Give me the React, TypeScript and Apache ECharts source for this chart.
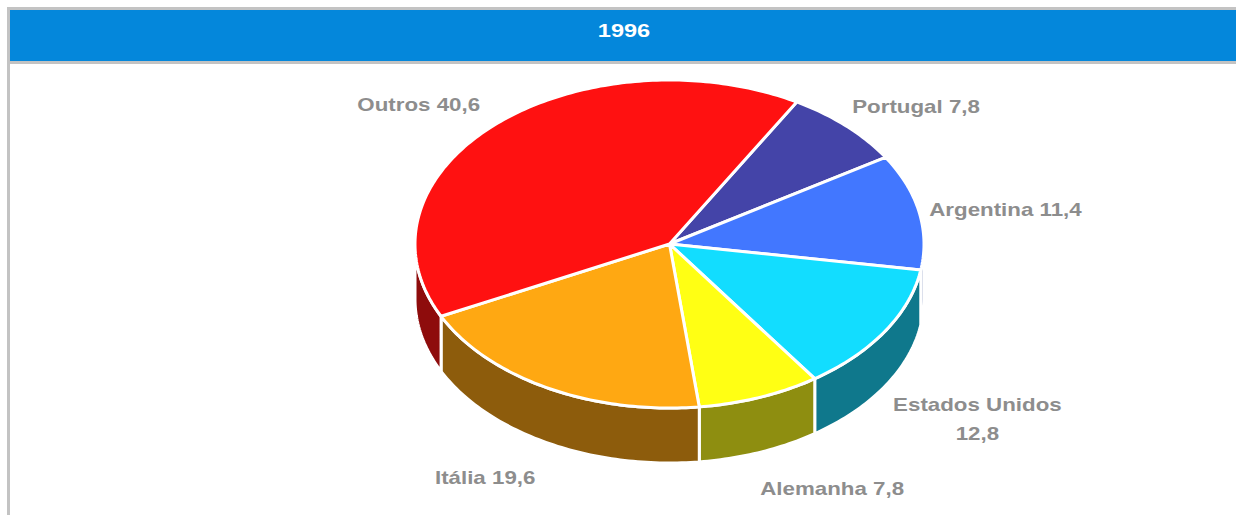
import React, { useEffect, useRef } from "react";
import * as echarts from "echarts";

const chartTitle = "1996";
const categories = ["Portugal", "Argentina", "Estados Unidos", "Alemanha", "Itália", "Outros"];
const values = [7.8, 11.4, 12.8, 7.8, 19.6, 40.6];
const topColors = ["#4444A8", "#4277FF", "#12DDFF", "#FFFF14", "#FFA812", "#FF1111"];
const sideColors = ["#25255C", "#24418C", "#0F788C", "#8E8E10", "#8D5C0C", "#8E0C0C"];

const W = 1236;
const H = 515;
const CX = 669.5;
const CY = 244;
const RX = 254.5;
const RY = 164;
const DEPTH = 55;
const START = -60;
const LABEL_A = 270;
const LABEL_B = 198;
const LABEL_DX = -5;
const LINE_H = 29;
const SX = 1.24;
const FONT = '"Liberation Sans", Arial, sans-serif';
const LABEL_FILL = "#8D8D8D";

function fmt(v: number) {
  return v.toFixed(1).replace(".", ",");
}

export default function App() {
  const ref = useRef<HTMLDivElement>(null);
  useEffect(() => {
    if (!ref.current) return;
    const chart = echarts.init(ref.current, undefined, { renderer: "svg" });
    const total = values.reduce((a, b) => a + b, 0);
    const cum: number[] = [];
    let acc = 0;
    values.forEach((v) => {
      cum.push(acc);
      acc += v;
    });
    const canvas = document.createElement("canvas");
    const ctx = canvas.getContext("2d")!;
    ctx.font = `bold 18px ${FONT}`;
    const measure = (s: string) => ctx.measureText(s).width * SX;

    const rad = (d: number) => (d * Math.PI) / 180;
    const pt = (d: number, dy = 0) => [CX + RX * Math.cos(rad(d)), CY + RY * Math.sin(rad(d)) + dy];
    const arc = (from: number, to: number, dy: number) => {
      const n = Math.max(2, Math.ceil(Math.abs(to - from)));
      const pts: number[][] = [];
      for (let k = 0; k <= n; k++) pts.push(pt(from + ((to - from) * k) / n, dy));
      return pts;
    };

    const renderItem = (params: any) => {
      const i = params.dataIndex;
      const a0 = START + (cum[i] / total) * 360;
      const a1 = a0 + (values[i] / total) * 360;
      const children: any[] = [];
      children.push({
        type: "polygon",
        z2: 10,
        shape: { points: [[CX, CY], ...arc(a0, a1, 0)] },
        style: { fill: topColors[i], stroke: "#ffffff", lineWidth: 3, lineJoin: "round" },
      });
      const s = Math.max(a0, 0);
      const e = Math.min(a1, 180);
      if (e > s) {
        children.push({
          type: "polygon",
          z2: 0,
          shape: { points: [...arc(s, e, 0), ...arc(e, s, DEPTH)] },
          style: { fill: sideColors[i], stroke: "#ffffff", lineWidth: 3, lineJoin: "round" },
        });
      }
      const mid = (a0 + a1) / 2;
      const c = Math.cos(rad(mid));
      const sn = Math.sin(rad(mid));
      let text = `${categories[i]} ${fmt(values[i])}`;
      let lines = [text];
      if (measure(text) > 190) {
        const k = text.lastIndexOf(" ");
        lines = [text.slice(0, k), text.slice(k + 1)];
        text = lines.join("\n");
      }
      const w = Math.max(...lines.map(measure));
      const lx = CX + LABEL_DX + LABEL_A * c + (c >= 0 ? 1 : -1) * (w / 2);
      const extra = ((lines.length - 1) * (LINE_H - 10)) / 2;
      const ly = CY + LABEL_B * sn + 5 + (sn > 0 ? DEPTH + extra : -extra);
      children.push({
        type: "text",
        z2: 20,
        x: lx,
        y: ly,
        scaleX: SX,
        style: {
          text,
          x: 0,
          y: 0,
          align: "center",
          verticalAlign: "middle",
          fill: LABEL_FILL,
          fontSize: 18,
          fontWeight: "bold",
          fontFamily: FONT,
          lineHeight: LINE_H,
        },
      });
      return { type: "group", children };
    };

    chart.setOption({
      animation: false,
      backgroundColor: "#ffffff",
      graphic: [
        { type: "rect", shape: { x: 7, y: 7, width: W - 7, height: 3 }, style: { fill: "#C3C3C3" } },
        { type: "rect", shape: { x: 7, y: 7, width: 3, height: H - 7 }, style: { fill: "#C3C3C3" } },
        { type: "rect", shape: { x: 10, y: 10, width: W - 10, height: 51 }, style: { fill: "#0487DB" } },
        { type: "rect", shape: { x: 10, y: 61, width: W - 10, height: 3 }, style: { fill: "#C3C3C3" } },
        {
          type: "text",
          x: 624,
          y: 31,
          scaleX: SX,
          style: {
            text: chartTitle,
            x: 0,
            y: 0,
            align: "center",
            verticalAlign: "middle",
            fill: "#ffffff",
            fontSize: 19,
            fontWeight: "bold",
            fontFamily: FONT,
          },
        },
      ],
      series: [
        {
          type: "custom",
          coordinateSystem: "none",
          renderItem,
          data: values,
          silent: true,
        },
      ],
    });
    return () => chart.dispose();
  }, []);
  return (
    <div
      ref={ref}
      style={{ position: "fixed", left: 0, top: 0, width: W, height: H }}
    />
  );
}
